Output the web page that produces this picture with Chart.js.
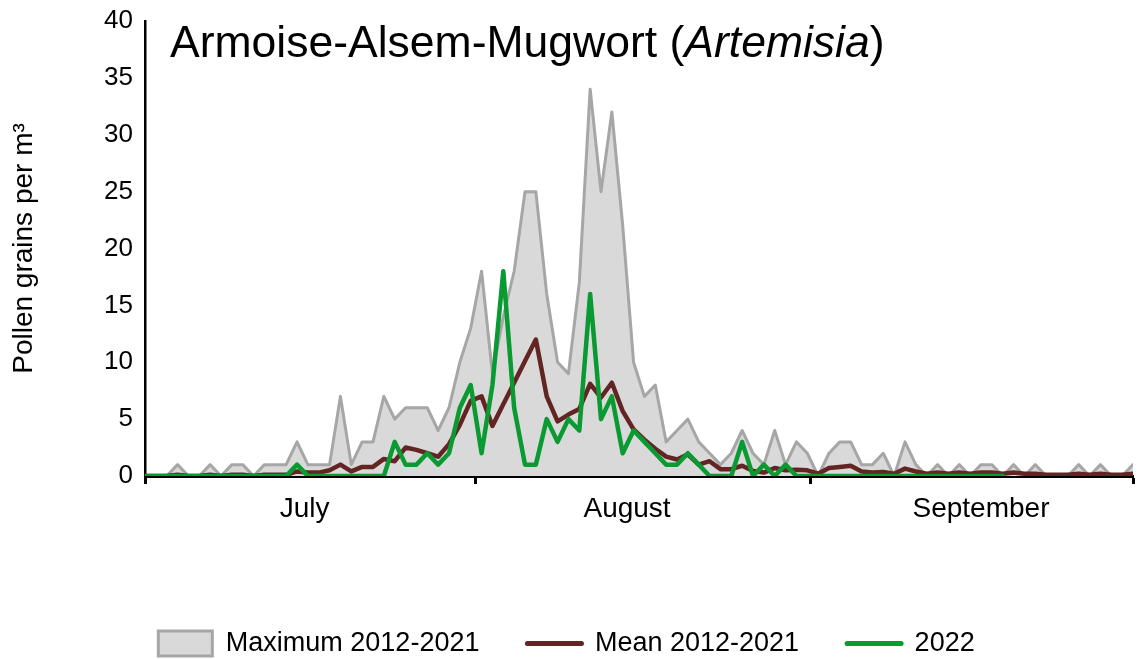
<!DOCTYPE html>
<html><head><meta charset="utf-8">
<script src="https://cdn.jsdelivr.net/npm/chart.js@4.4.0/dist/chart.umd.min.js"></script>
<style>html,body{margin:0;padding:0;background:#fff;} canvas{display:block;}</style>
</head><body>
<canvas id="c" width="1139" height="659"></canvas>
<script>
// ---- data (day index 0 = 1 July) ----
const seriesNames = ['Maximum 2012-2021', 'Mean 2012-2021', '2022'];
const maxVals = [0,0,0,1,0,0,1,0,1,1, 0,1,1,1,3,1,1,1,7,1, 3,3,7,5,6,6,6,4,6,10,
  13,18,9,14,18,25,25,16,10,9, 17,34,25,32,22,10,7,8,3,4, 5,3,2,1,2,4,2,1,4,1,
  3,2,0,2,3,3,1,1,2,0, 3,1,0,1,0,1,0,1,1,0, 1,0,1,0,0,0,1,0,1,0, 0,1];
const meanVals = [0,0,0,0.1,0,0,0.1,0,0.1,0.1, 0,0.1,0.1,0.1,0.4,0.3,0.3,0.5,1.0,0.4,
  0.8,0.8,1.5,1.3,2.5,2.3,2.0,1.7,2.8,4.5, 6.6,7.0,4.4,6.3,8.2,10.1,12.0,7.0,4.8,5.4,
  5.9,8.1,6.9,8.2,5.7,4.1,3.2,2.4,1.7,1.45, 1.9,1.0,1.3,0.6,0.6,0.9,0.45,0.3,0.7,0.5,
  0.55,0.5,0.2,0.7,0.8,0.9,0.4,0.3,0.35,0.2, 0.65,0.4,0.2,0.3,0.2,0.3,0.2,0.3,0.3,0.2,
  0.3,0.2,0.2,0.1,0.1,0.1,0.2,0.1,0.2,0.1, 0.1,0.2];
const vals2022 = [0,0,0,0,0,0,0,0,0,0, 0,0,0,0,1,0,0,0,0,0, 0,0,0,3,1,1,2,1,2,6,
  8,2,8,18,6,1,1,5,3,5, 4,16,5,7,2,4,3,2,1,1, 2,1,0,0,0,3,0,1,0,1,
  0,0,0,0,0,0,0,0,0,0, 0,0,0,0,0,0,0,0,0,0];
const monthLabels = ['July', 'August', 'September'];
const monthLabelDays = [14.7, 44.4, 77.0];
const monthEdgeDays = [0, 30.4, 61.25, 91];
const titleParts = ['Armoise-Alsem-Mugwort (', 'Artemisia', ')'];
const yTitle = 'Pollen grains per m³';

const FONT = '"Liberation Sans", Arial, sans-serif';
Chart.defaults.font.family = FONT;
Chart.defaults.color = '#000';

const toXY = arr => arr.map((v, i) => ({x: i, y: v}));

const titlePlugin = {
  id: 'titleText',
  afterDraw(chart) {
    const {ctx, chartArea} = chart;
    ctx.save();
    ctx.fillStyle = '#000';
    ctx.textBaseline = 'alphabetic';
    let x = chartArea.left + 25;
    const y = chartArea.top + 36;
    titleParts.forEach((t, k) => {
      ctx.font = (k === 1 ? 'italic ' : '') + '44.5px ' + FONT;
      ctx.fillText(t, x, y);
      x += ctx.measureText(t).width;
    });
    ctx.restore();
  }
};

const legendStyle = [
  {pointStyle: 'rect', fill: '#D9D9D9', stroke: '#A6A6A6', lw: 3},
  {pointStyle: 'line', fill: '#632523', stroke: '#632523', lw: 5},
  {pointStyle: 'line', fill: '#0A9A32', stroke: '#0A9A32', lw: 5}
];

new Chart(document.getElementById('c'), {
  type: 'line',
  data: {
    datasets: [
      {label: seriesNames[0], data: toXY(maxVals), fill: 'origin', backgroundColor: '#D9D9D9',
       borderColor: '#A6A6A6', borderWidth: 3, pointRadius: 0, tension: 0, order: 2,
       borderJoinStyle: 'round', borderCapStyle: 'round'},
      {label: seriesNames[1], data: toXY(meanVals), fill: false, borderColor: '#632523',
       borderWidth: 4.5, pointRadius: 0, tension: 0, order: 1,
       borderJoinStyle: 'round', borderCapStyle: 'round'},
      {label: seriesNames[2], data: toXY(vals2022), fill: false, borderColor: '#0A9A32',
       borderWidth: 4.5, pointRadius: 0, tension: 0, order: 0,
       borderJoinStyle: 'round', borderCapStyle: 'round'}
    ]
  },
  options: {
    responsive: false,
    animation: false,
    devicePixelRatio: 1,
    layout: {padding: {top: 21, right: 6, left: 0, bottom: -8}},
    plugins: {
      title: {display: false},
      tooltip: {enabled: false},
      legend: {
        position: 'bottom',
        labels: {
          usePointStyle: true, pointStyleWidth: 54, boxHeight: 25, padding: 18,
          color: '#000', font: {size: 27},
          generateLabels: chart => chart.data.datasets.map((d, i) => ({
            text: d.label + (i < chart.data.datasets.length - 1 ? '    ' : ''),
            fillStyle: legendStyle[i].fill, strokeStyle: legendStyle[i].stroke,
            lineWidth: legendStyle[i].lw, pointStyle: legendStyle[i].pointStyle,
            lineCap: 'round', datasetIndex: i, hidden: false, fontColor: '#000'
          }))
        }
      }
    },
    scales: {
      x: {
        type: 'linear', min: 0, max: 91,
        afterBuildTicks: s => {
          s.ticks = monthEdgeDays.concat(monthLabelDays).sort((a, b) => a - b).map(v => ({value: v}));
        },
        ticks: {
          autoSkip: false, maxRotation: 0, padding: 8, color: '#000', font: {size: 28},
          callback: v => { const k = monthLabelDays.indexOf(v); return k >= 0 ? monthLabels[k] : ''; }
        },
        grid: {
          display: true, drawOnChartArea: false, drawTicks: true, tickLength: 8, tickWidth: 3,
          tickColor: c => (c.tick && monthEdgeDays.includes(c.tick.value)) ? '#000' : 'rgba(0,0,0,0)'
        },
        border: {display: true, color: '#000', width: 3},
        afterFit: s => { s.height = 136; s.paddingLeft = 0; s.paddingRight = 0; }
      },
      y: {
        min: 0, max: 40,
        ticks: {stepSize: 5, color: '#000', font: {size: 26}, padding: 12},
        grid: {display: false, drawTicks: false},
        border: {display: true, color: '#000', width: 2.5},
        title: {display: true, text: yTitle, color: '#000', font: {size: 28}, padding: {top: 7, bottom: 0}},
        afterFit: s => { s.width = 145; s.paddingTop = 0; s.paddingBottom = 0; }
      }
    }
  },
  plugins: [titlePlugin]
});
</script>
</body></html>
